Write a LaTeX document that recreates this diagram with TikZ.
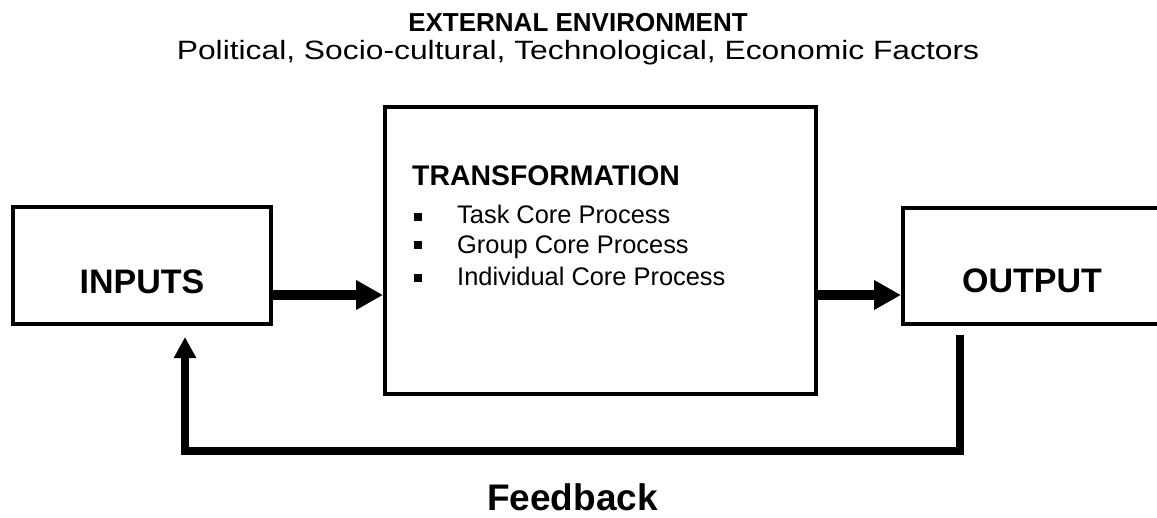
\documentclass[tikz,border=0pt]{standalone}
\usepackage{fontspec}
\setmainfont{Liberation Sans}
\usetikzlibrary{arrows.meta}
\begin{document}
\begin{tikzpicture}[x=1pt,y=-1pt,
  box/.style={draw, line width=4pt, inner sep=0pt, fill=white},
  lbl/.style={inner sep=0pt, anchor=base},
  bulletsq/.style={fill=black, inner sep=0pt, minimum size=8pt},
  bigflow/.style={line width=10pt, -{Triangle[length=27pt,width=28pt]}},
  loopflow/.style={line width=8pt, line join=miter, -{Triangle[length=21pt,width=21pt]}}]
\useasboundingbox (0,0) rectangle (1157,517);

% heading
\node[lbl] (title) at (578,31) {\fontsize{26}{30}\selectfont\bfseries EXTERNAL ENVIRONMENT};
\node[lbl] (factors) at (578,59) {\scalebox{1.2}[1]{\fontsize{26.5}{32}\selectfont Political, Socio-cultural, Technological, Economic Factors}};

% the three boxes
\node[box, minimum width=257.5pt, minimum height=117pt] (inputs) at (141.75,265.5) {};
\node[box, minimum width=431pt, minimum height=287.5pt] (transform) at (600.5,250.25) {};
\node[box, minimum width=262pt, minimum height=115.5pt] (output) at (1034,266) {};

\node[lbl] (inputsText) at (142,293) {\fontsize{34}{40}\selectfont\bfseries INPUTS};
\node[lbl] (outputText) at (1032,292) {\fontsize{34}{40}\selectfont\bfseries OUTPUT};

% contents of the transformation box
\node[lbl, anchor=base west] (transTitle) at (412,185) {\fontsize{28.4}{34}\selectfont\bfseries TRANSFORMATION};
\node[bulletsq] (b1) at (417.5,216.5) {};
\node[bulletsq] (b2) at (417.5,245) {};
\node[bulletsq] (b3) at (417.5,277.5) {};
\node[lbl, anchor=base west] (task) at (457,223) {\fontsize{25.4}{30}\selectfont Task Core Process};
\node[lbl, anchor=base west] (group) at (457,253) {\fontsize{25.4}{30}\selectfont Group Core Process};
\node[lbl, anchor=base west] (indiv) at (457,285) {\fontsize{25.4}{30}\selectfont Individual Core Process};

% forward flow
\coordinate (flowrow) at (0,295);
\draw[bigflow] (inputs.east |- flowrow) -- (transform.west |- flowrow);
\draw[bigflow] (transform.east |- flowrow) -- (output.west |- flowrow);

% feedback loop
\coordinate (fbstart) at (960,335);
\coordinate (fbcorner) at (185,451);
\coordinate (fbend) at (185,337);
\draw[loopflow] (fbstart) |- (fbcorner) -- (fbend);
\node[lbl] (feedback) at (572.5,510) {\fontsize{37}{44}\selectfont\bfseries Feedback};
\end{tikzpicture}
\end{document}
